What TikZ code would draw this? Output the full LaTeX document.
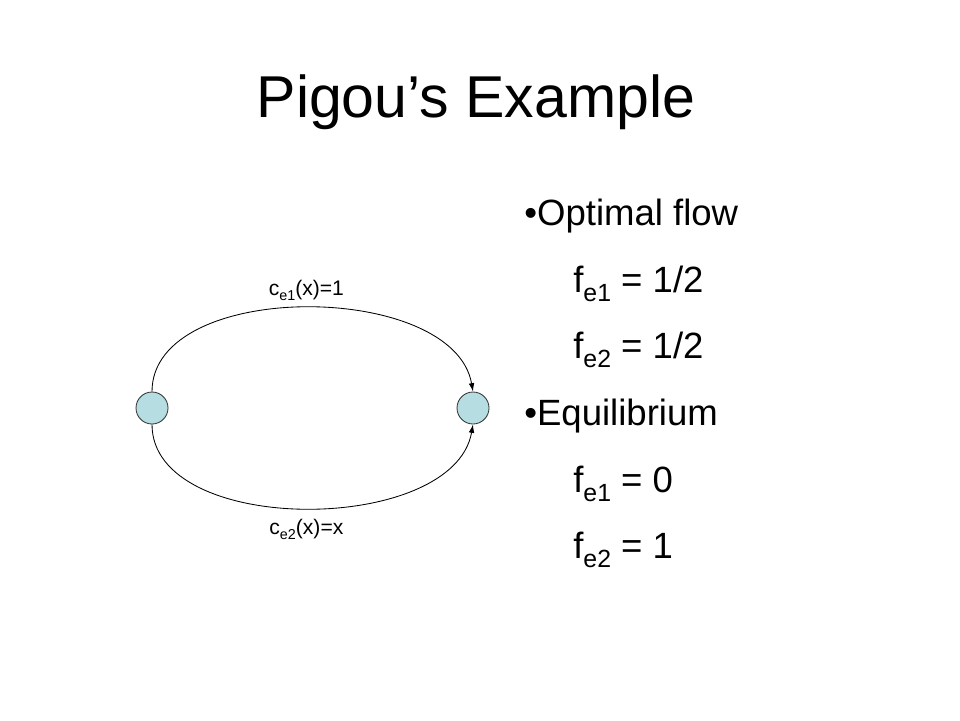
\documentclass[tikz,border=0pt]{standalone}
\usepackage{fontspec}
\setmainfont{Liberation Sans}
\usetikzlibrary{arrows.meta}
\definecolor{nodecyan}{RGB}{182,221,226}
\newcommand{\lowsub}[1]{\raisebox{-0.27em}{\scalebox{0.68}{#1}}}
\tikzset{
  vertex/.style={circle,draw=black!80,fill=nodecyan,minimum size=0.8cm,inner sep=0pt,line width=0.6pt},
  edgeline/.style={line width=0.6pt,-{Latex[length=6pt,width=4pt]}},
  costlabel/.style={anchor=base,inner sep=0pt,font=\fontsize{15}{18}\selectfont},
  bodytext/.style={anchor=base west,inner sep=0pt,font=\fontsize{26}{30}\selectfont}
}
\begin{document}
\begin{tikzpicture}
        \useasboundingbox (0,0) rectangle (24,18);
        %%%%%%%% Titolo %%%%%%%%%
        \node[anchor=base,font=\fontsize{42}{50}\selectfont] (title) at (11.9,15.05) {Pigou's Example};

        %%%%%%%% Grafo %%%%%%%%%
        \node[vertex] (s) at (3.8,7.8) {};
        \node[vertex] (t) at (11.825,7.8) {};
        \draw[edgeline] (s.north) to[out=90,in=100,looseness=0.9] (t.north);
        \draw[edgeline] (s.south) to[out=-90,in=-100,looseness=0.9] (t.south);
        \node[costlabel] (c1) at (7.66,10.625) {c\lowsub{e1}(x)=1};
        \node[costlabel] (c2) at (7.66,4.65) {c\lowsub{e2}(x)=x};

        %%%%%%%% Testo %%%%%%%%%
        \node[bodytext] (opt) at (13.1,12.375) {•Optimal flow};
        \node[bodytext] (o1) at (14.325,10.7) {f\lowsub{e1} = 1/2};
        \node[bodytext] (o2) at (14.325,9.05) {f\lowsub{e2} = 1/2};
        \node[bodytext] (eq) at (13.1,7.375) {•Equilibrium};
        \node[bodytext] (e1) at (14.325,5.7) {f\lowsub{e1} = 0};
        \node[bodytext] (e2) at (14.325,4.05) {f\lowsub{e2} = 1};
    \end{tikzpicture}
\end{document}
